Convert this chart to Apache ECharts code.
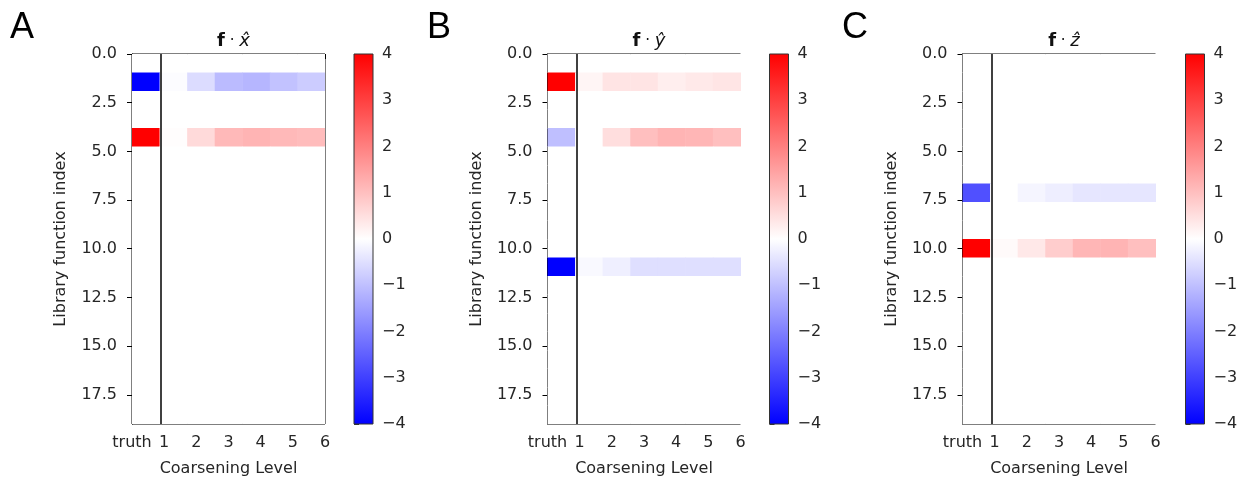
<!DOCTYPE html>
<html>
<head>
<meta charset="UTF-8">
<title>coarsening</title>
<style>
  html, body { margin: 0; padding: 0; background: #fff; }
  #chart { width: 1244px; height: 482px; }
</style>
</head>
<body>
<div id="chart"></div>
<script src="https://cdn.jsdelivr.net/npm/echarts@6/dist/echarts.min.js"></script>
<script>
// columns: truth, then coarsening levels 1..6
var levels = ['truth', '1', '2', '3', '4', '5', '6'];
var nFunctions = 20;
var yTicks = [0, 2.5, 5, 7.5, 10, 12.5, 15, 17.5];
var cbTicks = [-4, -3, -2, -1, 0, 1, 2, 3, 4];

// non-zero rows of each coefficient matrix (all other rows are 0)
var rowsX = [1, 4];
var valsX = [
  [-4, -0.05, -0.55, -1.07, -1.15, -0.95, -0.8],
  [4, 0.03, 0.58, 1.1, 1.18, 1.1, 1.05]
];
var rowsY = [1, 4, 11];
var valsY = [
  [4, 0.15, 0.42, 0.42, 0.27, 0.35, 0.4],
  [-1.0, 0, 0.52, 1.0, 1.18, 1.15, 1.0],
  [-4, -0.1, -0.25, -0.5, -0.5, -0.5, -0.5]
];
var rowsZ = [7, 10];
var valsZ = [
  [-2.75, 0, -0.15, -0.27, -0.4, -0.4, -0.4],
  [4, 0.08, 0.36, 0.78, 1.15, 1.18, 1.0]
];

var FONT = 'DejaVu Sans';
var TXT = '#262626';

function buildCells(rows, vals) {
  var out = [];
  for (var r = 0; r < nFunctions; r++) {
    var k = rows.indexOf(r);
    for (var c = 0; c < levels.length; c++) {
      out.push([c, r, k >= 0 ? vals[k][c] : 0]);
    }
  }
  return out;
}

// image extent is x 0..6, y 0..19 (like imshow extent)
var cw = 6 / levels.length, rh = 19 / nFunctions;
function renderCell(params, api) {
  var c = api.value(0), r = api.value(1);
  var p0 = api.coord([c * cw, r * rh]);
  var p1 = api.coord([(c + 1) * cw, (r + 1) * rh]);
  return {
    type: 'rect',
    shape: {
      x: Math.min(p0[0], p1[0]), y: Math.min(p0[1], p1[1]),
      width: Math.abs(p1[0] - p0[0]) + 0.5, height: Math.abs(p1[1] - p0[1]) + 0.5
    },
    style: { fill: api.visual('color') }
  };
}

function renderBar(params, api) {
  var p0 = api.coord([0, api.value(0)]);
  var p1 = api.coord([1, api.value(1)]);
  return {
    type: 'rect',
    shape: { x: p0[0], y: p1[1], width: p1[0] - p0[0], height: p0[1] - p1[1] },
    style: {
      fill: new echarts.graphic.LinearGradient(0, 1, 0, 0, [
        { offset: 0, color: '#0000ff' },
        { offset: 0.5, color: '#ffffff' },
        { offset: 1, color: '#ff0000' }
      ]),
      stroke: '#333', lineWidth: 1
    }
  };
}

var panels = [
  { hat: 'x', left: 132, cb: 354, letter: 'A', lx: 10, data: buildCells(rowsX, valsX) },
  { hat: 'y', left: 547.5, cb: 769.5, letter: 'B', lx: 427, data: buildCells(rowsY, valsY) },
  { hat: 'z', left: 962.5, cb: 1185.5, letter: 'C', lx: 842, data: buildCells(rowsZ, valsZ) }
];

var grids = [], xAxes = [], yAxes = [], series = [], titles = [], graphics = [];
panels.forEach(function (p, i) {
  grids.push({ left: p.left, top: 54, width: 193, height: 370, show: true, borderColor: '#000', borderWidth: 1, backgroundColor: '#fff' });
  grids.push({ left: p.cb, top: 54, width: 19, height: 370 });

  xAxes.push({
    gridIndex: 2 * i, type: 'value', min: 0, max: 6, interval: 1,
    name: 'Coarsening Level', nameLocation: 'middle', nameGap: 37,
    nameTextStyle: { fontFamily: FONT, fontSize: 16, color: TXT },
    axisLine: { show: true, lineStyle: { color: '#000', width: 1 } },
    axisTick: { show: true, length: 5, lineStyle: { color: '#000' } },
    axisLabel: {
      fontFamily: FONT, fontSize: 16, color: TXT, margin: 11,
      formatter: function (v) { return levels[v]; }
    },
    splitLine: { show: false }
  });
  xAxes.push({ gridIndex: 2 * i + 1, type: 'value', min: 0, max: 1, show: false });

  yAxes.push({
    gridIndex: 2 * i, type: 'value', min: 0, max: 19, inverse: true,
    name: 'Library function index', nameLocation: 'middle', nameGap: 63,
    nameTextStyle: { fontFamily: FONT, fontSize: 16, color: TXT },
    axisLine: { show: true, lineStyle: { color: '#000', width: 1 } },
    axisTick: { show: true, length: 5, customValues: yTicks, lineStyle: { color: '#000' } },
    axisLabel: {
      fontFamily: FONT, fontSize: 16, color: TXT, margin: 15, customValues: yTicks,
      formatter: function (v) { return v.toFixed(1); }
    },
    splitLine: { show: false }
  });
  yAxes.push({
    gridIndex: 2 * i + 1, type: 'value', position: 'right', min: -4, max: 4, interval: 1,
    axisLine: { show: false },
    axisTick: { show: true, length: 5, lineStyle: { color: '#333' } },
    axisLabel: {
      fontFamily: FONT, fontSize: 16, color: TXT, margin: 9,
      formatter: function (v) { return String(v).replace('-', '\u2212'); }
    },
    splitLine: { show: false }
  });

  series.push({
    type: 'custom', xAxisIndex: 2 * i, yAxisIndex: 2 * i,
    renderItem: renderCell, data: p.data, clip: true,
    markLine: {
      silent: true, symbol: 'none', label: { show: false },
      lineStyle: { color: '#000', width: 1.5, type: 'solid' },
      data: [{ xAxis: 0.9 }]
    }
  });
  series.push({
    type: 'custom', xAxisIndex: 2 * i + 1, yAxisIndex: 2 * i + 1,
    renderItem: renderBar, data: [[cbTicks[0], cbTicks[cbTicks.length - 1]]]
  });

  titles.push({
    text: '{b|f}{d| \u00b7 }{i|' + p.hat + '\u0302}',
    left: p.left + 96.5, top: 27, textAlign: 'center',
    textStyle: {
      fontWeight: 'normal',
      rich: {
        b: { fontFamily: FONT, fontWeight: 'bold', fontSize: 18, color: '#111' },
        d: { fontFamily: FONT, fontWeight: 'normal', fontSize: 15, color: '#111' },
        i: { fontFamily: FONT, fontWeight: 'normal', fontStyle: 'italic', fontSize: 18, color: '#111' }
      }
    }
  });
  graphics.push({
    type: 'text', left: p.lx, top: 10,
    style: { text: p.letter, font: '36px "Liberation Sans"', fill: '#000' }
  });
});

var chart = echarts.init(document.getElementById('chart'));
chart.setOption({
  animation: false,
  backgroundColor: '#fff',
  title: titles,
  grid: grids,
  xAxis: xAxes,
  yAxis: yAxes,
  visualMap: {
    show: false, type: 'continuous', min: -4, max: 4, dimension: 2,
    seriesIndex: [0, 2, 4],
    inRange: { color: ['#0000ff', '#ffffff', '#ff0000'] }
  },
  graphic: graphics,
  series: series
});
</script>
</body>
</html>
